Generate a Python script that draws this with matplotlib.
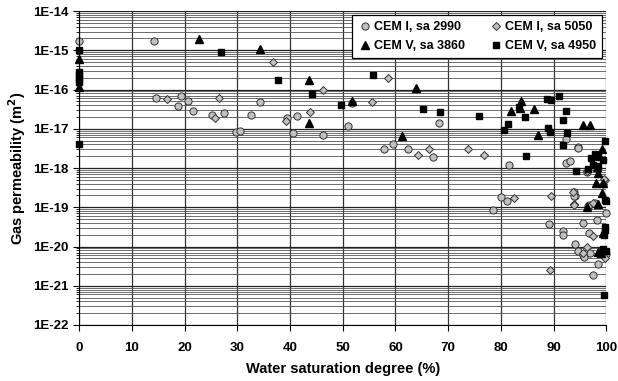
import matplotlib
matplotlib.use("Agg")
import matplotlib.pyplot as plt
from matplotlib.ticker import LogLocator, NullFormatter, FixedLocator

plt.rcParams['font.family'] = ['Liberation Sans', 'DejaVu Sans']
plt.rcParams['font.weight'] = 'bold'

# CEM I, sa 2990 (grey circles)
sw_c1 = [0, 14.2, 14.5, 19.4, 18.8, 20.7, 21.6, 25.2, 27.5, 29.7, 30.5, 32.7, 34.3,
         39.5, 40.6, 41.3, 46.3, 51.0, 51.7, 57.9, 59.5, 62.3, 67.2, 68.3,
         81.6, 92.3, 93.1, 94.6, 92.4, 94.7, 96.3, 94.1, 96.8, 97.9,
         80.0, 81.1, 78.6, 93.9, 93.9, 96.6, 99.9, 89.2, 91.8, 91.8, 95.5, 98.2,
         96.8, 94.1, 94.7, 95.5, 95.8, 97.0, 98.4, 97.5, 99.9]
k_c1 = [1.7e-15, 1.7e-15, 6.1e-17, 6.7e-17, 3.8e-17, 5.1e-17, 2.8e-17, 2.3e-17, 2.5e-17, 8.3e-18,
        8.7e-18, 2.3e-17, 4.9e-17, 1.9e-17, 7.6e-18, 2.1e-17, 6.8e-18, 1.2e-17, 4.6e-17,
        3.0e-18, 4.0e-18, 3.0e-18, 1.9e-18, 1.43e-17,
        1.2e-18, 1.35e-18, 1.5e-18, 3.5e-18, 5.4e-18, 3.3e-18, 8.1e-19, 1.9e-19, 1.15e-19, 1.3e-19,
        1.85e-19, 1.45e-19, 8.5e-20, 2.4e-19, 1.9e-19, 1.07e-19, 7.2e-20, 3.7e-20, 2.5e-20, 1.95e-20,
        3.9e-20, 4.6e-20, 2.2e-20, 1.14e-20, 7.8e-21, 6.1e-21, 5.3e-21, 6.9e-21, 3.5e-21, 1.9e-21, 6.6e-21]

# CEM I, sa 5050 (grey diamonds)
sw_c2 = [16.7, 26.6, 25.7, 36.7, 39.3, 43.8, 46.3, 58.6, 55.5, 64.3, 66.4, 73.7,
         76.8, 82.5, 89.5, 89.4, 93.7, 99.8, 96.3, 99.6, 93.9, 93.9, 97.4, 99.3,
         97.4, 96.4, 99.8, 95.6]
k_c2 = [5.9e-17, 6.2e-17, 1.85e-17, 5.1e-16, 1.6e-17, 2.6e-17, 9.8e-17, 1.94e-16, 4.9e-17,
        2.2e-18, 3.0e-18, 3.0e-18, 2.1e-18, 1.7e-19, 1.95e-19, 2.5e-21, 2.5e-19, 4.9e-19,
        8.3e-19, 5.2e-19, 1.2e-19, 1.15e-19, 1.26e-19, 3.9e-19, 1.8e-20, 1.0e-20, 5.0e-21, 6.9e-21]

# CEM V, sa 3860 (black triangles)
sw_v1 = [0, 0, 22.8, 34.4, 43.6, 43.6, 51.7, 63.9, 61.2, 83.9, 81.9, 83.6, 86.3, 87.0,
         95.5, 97.0, 99.1, 98.7, 98.2, 98.5, 98.0, 99.3, 99.2, 98.5, 96.4, 99.3, 98.5, 99.0]
k_v1 = [5.9e-16, 1.15e-16, 1.9e-15, 1.05e-15, 1.8e-16, 1.37e-17, 5.2e-17, 1.07e-16, 6.6e-18,
        5.2e-17, 2.9e-17, 3.3e-17, 3.2e-17, 6.9e-18, 1.26e-17, 1.26e-17, 3.0e-18, 2.0e-18,
        1.07e-18, 7.3e-19, 4.1e-19, 4.1e-19, 2.3e-19, 1.2e-19, 1.0e-19, 2.2e-20, 7.3e-21, 6.9e-21]

# CEM V, sa 4950 (black squares)
sw_v2 = [0, 0, 0, 0, 0, 0, 27.0, 37.8, 44.1, 49.6, 55.7, 65.2, 68.4, 75.9, 80.6, 81.4,
         83.5, 84.6, 84.7, 88.7, 89.5, 91.0, 92.4, 91.8, 88.9, 89.4, 92.5, 91.7, 94.3, 99.8,
         97.2, 97.9, 98.5, 99.4, 97.5, 98.5, 96.6, 99.8, 99.9, 99.8, 99.8, 99.6, 99.3, 99.9, 99.5]
k_v2 = [1.0e-15, 2.8e-16, 2.3e-16, 1.9e-16, 1.6e-16, 4.1e-18, 8.9e-16, 1.75e-16, 7.9e-17,
        4.0e-17, 2.4e-16, 3.1e-17, 2.7e-17, 2.1e-17, 9.3e-18, 1.3e-17, 3.5e-17, 1.95e-17,
        2.0e-18, 5.9e-17, 5.4e-17, 6.8e-17, 2.8e-17, 1.66e-17, 1.02e-17, 8.3e-18, 7.6e-18,
        3.9e-18, 8.3e-19, 5.0e-18, 1.8e-18, 2.3e-18, 2.0e-18, 1.6e-18, 1.2e-18, 1.1e-18,
        9.3e-19, 1.5e-19, 1.47e-19, 3.2e-20, 2.6e-20, 1.95e-20, 8.5e-21, 7.8e-21, 5.8e-22]

y_ticks = [1e-22, 1e-21, 1e-20, 1e-19, 1e-18, 1e-17, 1e-16, 1e-15, 1e-14]
y_labels = ['1E-22', '1E-21', '1E-20', '1E-19', '1E-18', '1E-17', '1E-16', '1E-15', '1E-14']

fig = plt.figure(figsize=(6.18, 3.81), dpi=100)
ax = fig.add_axes([0.128, 0.147, 0.853, 0.824])

ax.set_yscale('log')
ax.set_xlim(0, 100)
ax.set_ylim(1e-22, 1e-14)

ax.grid(True, which='major', axis='x', color='#333333', lw=0.9)
ax.grid(True, which='major', axis='y', color='#222222', lw=0.9)
ax.grid(True, which='minor', axis='y', color='#555555', lw=0.6)
ax.set_axisbelow(True)

ax.plot(sw_c1, k_c1, 'o', ms=5.2, mfc='#c0c0c0', mec='#333333', mew=0.7,
        ls='none', label='CEM I, sa 2990', clip_on=False)
ax.plot(sw_c2, k_c2, 'D', ms=3.8, mfc='#c0c0c0', mec='#333333', mew=0.7,
        ls='none', label='CEM I, sa 5050', clip_on=False)
ax.plot(sw_v1, k_v1, '^', ms=5.2, mfc='black', mec='black',
        ls='none', label='CEM V, sa 3860', clip_on=False)
ax.plot(sw_v2, k_v2, 's', ms=4.8, mfc='black', mec='black',
        ls='none', label='CEM V, sa 4950', clip_on=False)

ax.set_xticks(range(0, 101, 10))
ax.yaxis.set_major_locator(FixedLocator(y_ticks))
ax.set_yticklabels(y_labels)
ax.yaxis.set_minor_locator(LogLocator(base=10, subs=range(2, 10), numticks=20))
ax.yaxis.set_minor_formatter(NullFormatter())
ax.tick_params(axis='both', which='major', direction='out', length=4, width=0.8,
               labelsize=9.5, colors='black')
ax.tick_params(axis='y', which='minor', direction='out', length=2, width=0.6)
ax.tick_params(axis='x', pad=8)
for lab in ax.get_xticklabels() + ax.get_yticklabels():
    lab.set_fontweight('bold')

ax.spines['top'].set_visible(False)
ax.spines['right'].set_visible(False)

ax.set_xlabel('Water saturation degree (%)', fontsize=10.5, fontweight='bold', labelpad=6)
ax.set_ylabel('Gas permeability (m$^\\mathbf{2}$)', fontsize=10.5, fontweight='bold')

h, l = ax.get_legend_handles_labels()
order = [0, 2, 1, 3]
leg = ax.legend([h[i] for i in order], [l[i] for i in order], ncol=2,
                loc='upper right', bbox_to_anchor=(0.992, 0.988),
                prop={'weight': 'bold', 'size': 9}, fancybox=False,
                framealpha=1, edgecolor='black', handletextpad=0.2,
                handlelength=1.0, columnspacing=2.0, borderaxespad=0,
                labelspacing=0.55, borderpad=0.5)
leg.get_frame().set_linewidth(0.9)

fig.savefig('out.png', dpi=100)
